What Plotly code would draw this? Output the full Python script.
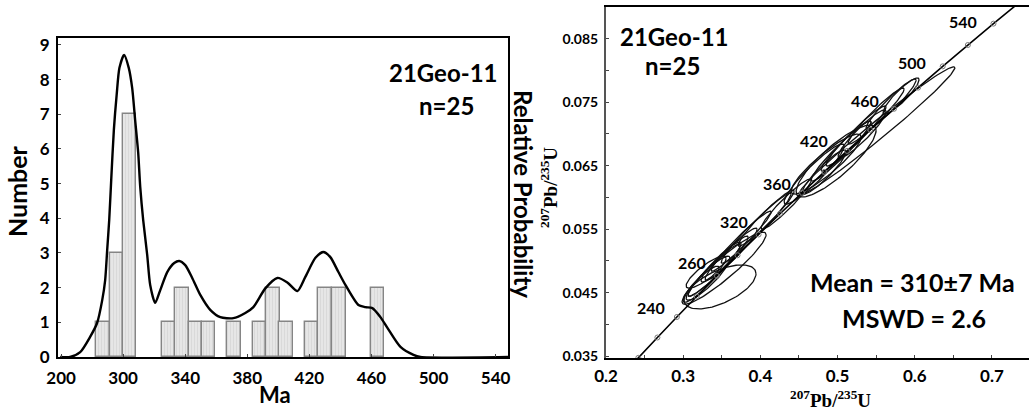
import numpy as np
import plotly.graph_objects as go

W, H = 1029, 410

# ---------------- Left panel: histogram + probability curve ----------------
bar_age = [287, 295.5, 304, 329.5, 338, 346.5, 355, 371.5, 388, 396.5, 405, 421.5, 430, 439, 464]
bar_count = [1, 3, 7, 1, 2, 1, 1, 1, 1, 2, 1, 1, 2, 2, 2]
BAR_WIDTH = 8.6

curve_age = [259.4, 265.8, 272.3, 278.7, 283.2, 286.5, 288.4, 289.7, 291.0, 292.3, 294.0, 295.8,
             297.6, 300.6, 303.6, 305.8, 307.7, 309.7, 311.0, 312.9, 315.5, 317.4, 320.6, 323.9,
             328.4, 332.9, 336.1, 340.0, 344.5, 349.7, 356.1, 362.6, 371.0, 378.7, 383.9, 391.6,
             399.4, 405.8, 412.3, 417.4, 423.9, 429.0, 433.5, 438.7, 443.2, 451.6, 456.1, 460.6,
             465.8, 470.3, 478.7, 487.1, 491.6, 548.0]
curve_prob = [0.0, 0.0, 0.14, 0.58, 0.98, 1.64, 2.22, 3.09, 3.95, 5.11, 6.55, 7.56,
              8.34, 8.71, 8.34, 7.76, 6.84, 5.88, 4.90, 3.95, 2.94, 2.08, 1.56, 1.93,
              2.45, 2.71, 2.77, 2.65, 2.28, 1.79, 1.36, 1.15, 1.12, 1.27, 1.44, 1.98,
              2.28, 2.15, 1.90, 2.31, 2.86, 3.03, 2.88, 2.45, 2.08, 1.50, 1.44, 1.41,
              1.15, 0.84, 0.29, 0.06, 0.0, 0.0]

left_x_tickvals = [260, 300, 340, 380, 420, 460, 500, 540]
left_x_ticktext = ["200", "300", "340", "380", "420", "460", "500", "540"]
left_y_tickvals = [0, 1, 2, 3, 4, 5, 6, 7, 8, 9]

# ---------------- Right panel: concordia ----------------
conc_age = [200, 220, 240, 260, 280, 300, 320, 340, 360, 380, 400, 420, 440, 460, 480, 500, 520, 540, 560]
conc_x = [0.2177, 0.2419, 0.2666, 0.2918, 0.3175, 0.3437, 0.3704, 0.3977, 0.4255, 0.4539, 0.4828,
          0.5123, 0.5424, 0.5731, 0.6043, 0.6362, 0.6688, 0.7020, 0.7358]
conc_y = [0.03151, 0.03472, 0.03793, 0.04116, 0.04439, 0.04764, 0.05089, 0.05416, 0.05743, 0.06072,
          0.06402, 0.06732, 0.07064, 0.07397, 0.07730, 0.08065, 0.08401, 0.08738, 0.09075]

# error ellipses: centre, half-extent in x and y, correlation
ell_cx = [0.3530, 0.3477, 0.3323, 0.3401, 0.3453, 0.3232, 0.3621, 0.3297, 0.3491, 0.3751, 0.3945,
          0.4074, 0.4333, 0.4696, 0.4852, 0.4981, 0.5046, 0.5111, 0.5240, 0.5510, 0.5318, 0.5499,
          0.5694, 0.5823, 0.4826]
ell_cy = [0.04885, 0.04590, 0.04727, 0.04853, 0.04917, 0.04633, 0.05106, 0.04822, 0.04980, 0.05311,
          0.05516, 0.05674, 0.05894, 0.06368, 0.06525, 0.06573, 0.06730, 0.06809, 0.06967, 0.07049,
          0.06999, 0.07282, 0.07472, 0.07598, 0.06399]
ell_sx = [0.0544, 0.0466, 0.0285, 0.0337, 0.0389, 0.0233, 0.0337, 0.0259, 0.0259, 0.0389, 0.0453,
          0.0363, 0.0324, 0.0389, 0.0453, 0.0518, 0.0389, 0.0324, 0.0389, 0.1010, 0.0311, 0.0363,
          0.0324, 0.0233, 0.0285]
ell_sy = [0.00568, 0.00347, 0.00347, 0.00410, 0.00473, 0.00284, 0.00410, 0.00252, 0.00315, 0.00473,
          0.00552, 0.00442, 0.00394, 0.00473, 0.00473, 0.00568, 0.00473, 0.00394, 0.00473, 0.01009,
          0.00379, 0.00442, 0.00394, 0.00284, 0.00347]
ell_rho = [0.93, 0.60, 0.90, 0.95, 0.96, 0.90, 0.95, 0.85, 0.92, 0.97, 0.97, 0.96, 0.95, 0.93, 0.90,
           0.85, 0.96, 0.95, 0.96, 0.985, 0.93, 0.96, 0.95, 0.90, 0.92]

conc_label_text = ["240", "260", "320", "360", "420", "460", "500", "540"]
conc_label_px = [(651, 307), (692, 262), (734, 221), (777, 184), (814, 140), (865, 100), (912, 62), (963, 21)]

right_x_tickvals = [0.2, 0.3, 0.4, 0.5, 0.6, 0.7]
right_y_tickvals = [0.035, 0.045, 0.055, 0.065, 0.075, 0.085]

FONT = "Lato"
SERIF = "Liberation Serif"


def P(xp, yp):
    return xp / W, 1 - yp / H


fig = go.Figure()

fig.add_trace(go.Bar(
    x=bar_age, y=bar_count, width=BAR_WIDTH, xaxis="x", yaxis="y",
    marker=dict(color="#e2e2e2", line=dict(color="#858585", width=1.4),
                pattern=dict(shape="|", fgcolor="#c4c4c4", bgcolor="#e6e6e6", size=3, solidity=0.25)),
    showlegend=False,
))
fig.add_trace(go.Scatter(
    x=curve_age, y=curve_prob, mode="lines", xaxis="x", yaxis="y",
    line=dict(color="black", width=2.4, shape="spline", smoothing=0.7),
    showlegend=False,
))

# ellipses
th = np.linspace(0, 2 * np.pi, 120)
ex, ey = [], []
for cx, cy, sx, sy, r in zip(ell_cx, ell_cy, ell_sx, ell_sy, ell_rho):
    ex += list(cx + sx * np.cos(th)) + [None]
    ey += list(cy + sy * (r * np.cos(th) + np.sqrt(1 - r * r) * np.sin(th))) + [None]
fig.add_trace(go.Scatter(
    x=ex, y=ey, mode="lines", xaxis="x2", yaxis="y2",
    line=dict(color="#111111", width=1.3), showlegend=False,
))
fig.add_trace(go.Scatter(
    x=conc_x, y=conc_y, mode="lines", xaxis="x2", yaxis="y2",
    line=dict(color="black", width=1.6, shape="spline"), showlegend=False,
))
fig.add_trace(go.Scatter(
    x=conc_x[1:-1], y=conc_y[1:-1], mode="markers", xaxis="x2", yaxis="y2",
    marker=dict(symbol="circle-open", size=5, color="#777777", line=dict(width=1)),
    showlegend=False,
))

tick_font = dict(family=FONT, size=17, color="black", weight="bold")
ann = []


def text(s, xp, yp, size, angle=0, family=FONT, bold=True, xanchor="center"):
    x, y = P(xp, yp)
    ann.append(dict(text=s, x=x, y=y, xref="paper", yref="paper", showarrow=False,
                    xanchor=xanchor, yanchor="middle", textangle=angle,
                    font=dict(family=family, size=size, color="black",
                              weight="bold" if bold else "normal")))


text("21Geo-11", 443, 73, 24)
text("n=25", 446, 105, 24)
text("Number", 17, 191, 25, angle=-90)
text("Ma", 275, 394, 22)
text("Relative Probability", 524, 194, 24, angle=90)
text("<sup>207</sup>Pb/<sup>235</sup>U", 549, 188, 19, angle=-90, family=SERIF)
text("<sup>207</sup>Pb/<sup>235</sup>U", 830, 399, 19, family=SERIF)
text("21Geo-11", 674, 37, 24)
text("n=25", 672, 65, 24)
text("Mean = 310±7 Ma", 912, 282, 25)
text("MSWD = 2.6", 914, 318, 25)
for s, (xp, yp) in zip(conc_label_text, conc_label_px):
    text(s, xp, yp, 16)

common = dict(showgrid=False, zeroline=False, automargin=False)

fig.update_layout(
    width=W, height=H, margin=dict(l=0, r=0, t=0, b=0, autoexpand=False),
    paper_bgcolor="white", plot_bgcolor="white", bargap=0,
    annotations=ann,
    xaxis=dict(domain=[58 / W, 508 / W], range=[258, 548], anchor="y",
               tickvals=left_x_tickvals, ticktext=left_x_ticktext, tickfont=tick_font,
               showline=True, linecolor="black", linewidth=2, mirror=True,
               ticks="inside", ticklen=3, tickcolor="#444", ticklabelstandoff=5, **common),
    yaxis=dict(domain=[1 - 357 / H, 1 - 38 / H], range=[0, 9.2], anchor="x",
               tickvals=left_y_tickvals, tickfont=tick_font,
               showline=True, linecolor="black", linewidth=2, mirror=True,
               ticks="inside", ticklen=3, tickcolor="#444", ticklabelstandoff=3, **common),
    xaxis2=dict(domain=[606 / W, 1.0], range=[0.2, 0.748], anchor="y2",
                tickvals=right_x_tickvals, tickfont=tick_font,
                showline=True, linecolor="black", linewidth=2, mirror=True,
                ticks="inside", ticklen=3, tickcolor="#444", ticklabelstandoff=2,
                minor=dict(dtick=0.05, ticks="inside", ticklen=3, tickcolor="#444"), **common),
    yaxis2=dict(domain=[1 - 358 / H, 1 - 7 / H], range=[0.0347, 0.0900], anchor="x2",
                tickvals=right_y_tickvals, ticktext=[f"{v:.3f}" for v in right_y_tickvals],
                tickfont=dict(family=FONT, size=14, color="black", weight="bold"),
                showline=True, linecolor="#555", linewidth=2, mirror=False,
                ticks="inside", ticklen=3, tickcolor="#444", ticklabelstandoff=3,
                minor=dict(dtick=0.005, ticks="inside", ticklen=3, tickcolor="#444"), **common),
)

fig.write_html("out.html")
